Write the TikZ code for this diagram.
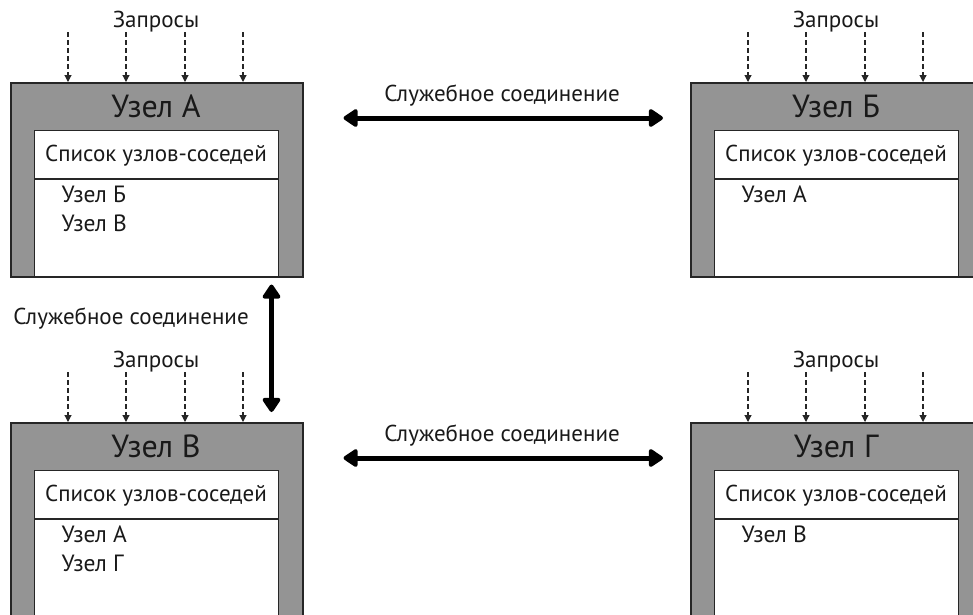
\documentclass[tikz,border=0pt]{standalone}
\usepackage{fontspec}
\setmainfont{PT Sans}
\usetikzlibrary{arrows.meta}

\tikzset{
  uzel/.style={draw=black!85, line width=1.5pt, fill=black!42, anchor=north west,
    minimum width=292pt, minimum height=194pt, inner sep=0pt},
  spisok/.style={draw=black!85, line width=1.2pt, fill=white, anchor=north west,
    minimum width=244pt, minimum height=146pt, inner sep=0pt},
  imya/.style={text=black!90, font=\fontsize{32}{34}\selectfont},
  shapka/.style={text=black!90, font=\fontsize{23}{26}\selectfont},
  punkt/.style={text=black!90, anchor=west, font=\fontsize{23.5}{26}\selectfont},
  podpis/.style={text=black!90, font=\fontsize{23}{26}\selectfont},
  zapros/.style={-{Triangle[length=7pt,width=7pt]}, dash pattern=on 5pt off 3pt,
    line width=1.1pt, black!85},
  svyaz/.style={{Triangle[length=16pt,width=20pt,round]}-{Triangle[length=16pt,width=20pt,round]},
    line width=5pt}
}

\begin{document}
\begin{tikzpicture}[x=1pt, y=-1pt]
\useasboundingbox (0,0) rectangle (973,614);
\clip (0,0) rectangle (973,614);

% Узел А
\begin{scope}[shift={(10,82)}]
    \node[uzel] (uzelA) at (0,0) {};
    \node[spisok] (spisokA) at (24,48) {};
    \draw[black!85, line width=1.2pt] ([yshift=-49pt]spisokA.north west) -- ([yshift=-49pt]spisokA.north east);
    \node[imya] (imyaA) at (146,24) {Узел А};
    \node[shapka] (shapkaA) at (146,74) {Список узлов-соседей};
    \node[punkt] (A1) at (48,112) {Узел Б};
    \node[punkt] (A2) at (48,141) {Узел В};
    \node[podpis] (zaprosA) at (146,-60) {Запросы};
    \foreach \x in {58,116,175,233}
        \draw[zapros] ([xshift=\x pt]uzelA.north west) ++(0,-50) -- ([xshift=\x pt]uzelA.north west);
\end{scope}

% Узел Б
\begin{scope}[shift={(690,82)}]
    \node[uzel] (uzelB) at (0,0) {};
    \node[spisok] (spisokB) at (24,48) {};
    \draw[black!85, line width=1.2pt] ([yshift=-49pt]spisokB.north west) -- ([yshift=-49pt]spisokB.north east);
    \node[imya] (imyaB) at (146,24) {Узел Б};
    \node[shapka] (shapkaB) at (146,74) {Список узлов-соседей};
    \node[punkt] (B1) at (48,112) {Узел А};
    \node[podpis] (zaprosB) at (146,-60) {Запросы};
    \foreach \x in {58,116,175,233}
        \draw[zapros] ([xshift=\x pt]uzelB.north west) ++(0,-50) -- ([xshift=\x pt]uzelB.north west);
\end{scope}

% Узел В
\begin{scope}[shift={(10,422)}]
    \node[uzel] (uzelV) at (0,0) {};
    \node[spisok] (spisokV) at (24,48) {};
    \draw[black!85, line width=1.2pt] ([yshift=-49pt]spisokV.north west) -- ([yshift=-49pt]spisokV.north east);
    \node[imya] (imyaV) at (146,24) {Узел В};
    \node[shapka] (shapkaV) at (146,74) {Список узлов-соседей};
    \node[punkt] (V1) at (48,112) {Узел А};
    \node[punkt] (V2) at (48,141) {Узел Г};
    \node[podpis] (zaprosV) at (146,-60) {Запросы};
    \foreach \x in {58,116,175,233}
        \draw[zapros] ([xshift=\x pt]uzelV.north west) ++(0,-50) -- ([xshift=\x pt]uzelV.north west);
\end{scope}

% Узел Г
\begin{scope}[shift={(690,422)}]
    \node[uzel] (uzelG) at (0,0) {};
    \node[spisok] (spisokG) at (24,48) {};
    \draw[black!85, line width=1.2pt] ([yshift=-49pt]spisokG.north west) -- ([yshift=-49pt]spisokG.north east);
    \node[imya] (imyaG) at (146,24) {Узел Г};
    \node[shapka] (shapkaG) at (146,74) {Список узлов-соседей};
    \node[punkt] (G1) at (48,112) {Узел В};
    \node[podpis] (zaprosG) at (146,-60) {Запросы};
    \foreach \x in {58,116,175,233}
        \draw[zapros] ([xshift=\x pt]uzelG.north west) ++(0,-50) -- ([xshift=\x pt]uzelG.north west);
\end{scope}

% служебные соединения
\draw[svyaz, shorten <=40pt, shorten >=27pt] ([yshift=-36pt]uzelA.north east) -- ([yshift=-36pt]uzelB.north west);
\draw[svyaz, shorten <=40pt, shorten >=27pt] ([yshift=-36pt]uzelV.north east) -- ([yshift=-36pt]uzelG.north west);
\draw[svyaz, shorten <=7pt, shorten >=10pt] ([xshift=-32pt]uzelA.south east) -- ([xshift=-32pt]uzelV.north east);
\node[podpis] (svyazAB) at (502,96) {Служебное соединение};
\node[podpis] (svyazVG) at (502,436) {Служебное соединение};
\node[podpis] (svyazAV) at (131,319) {Служебное соединение};

\end{tikzpicture}
\end{document}
